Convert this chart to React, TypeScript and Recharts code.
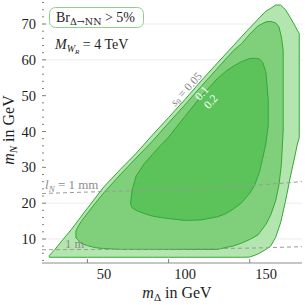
import React from "react";
import { ComposedChart, Area, Line, XAxis, YAxis, CartesianGrid } from "recharts";

const serif = "'Liberation Serif', 'DejaVu Serif', serif";

// m_Delta samples (GeV) with lower / upper m_N edge (GeV) of each s_theta region
const outerX = [26.5, 30, 35, 40, 50, 60, 70, 80, 90, 100, 110, 120, 130, 140, 145, 150, 155, 160, 163, 166, 169, 172, 175, 178, 179.5, 180.5];
const outerLo = [4.9, 4.9, 4.9, 4.9, 4.9, 4.9, 4.9, 4.9, 4.9, 4.9, 4.9, 4.9, 4.9, 4.9, 4.9, 4.95, 5.8, 7.1, 8.1, 10.5, 14.5, 20.5, 27.3, 33.5, 36.8, 38.2];
const outerHi = [5.4, 7.1, 9.9, 12.6, 18.6, 24.5, 29.3, 33.9, 39.0, 43.9, 48.9, 54.1, 59.1, 64.0, 66.5, 68.9, 71.3, 73.6, 74.4, 75.3, 75.3, 74.0, 71.8, 69.4, 68.1, 67.4];

const middleX = [42.9, 44, 46, 50, 55, 60, 70, 80, 90, 100, 110, 120, 130, 140, 145, 150, 155, 160, 163, 166, 168, 169.5, 170.6];
const middleLo = [10.3, 9.8, 8.8, 8.15, 7.55, 7.35, 7.1, 7.1, 7.1, 7.1, 7.1, 7.1, 7.1, 8.07, 8.85, 9.88, 11.1, 14.1, 16.8, 20.7, 25.1, 30.8, 40.4];
const middleHi = [12.2, 13.3, 14.8, 17.2, 20.1, 22.85, 27.85, 32.6, 37.3, 42.4, 47.4, 52.55, 57.6, 62.6, 64.55, 67.15, 69.45, 70.6, 70.7, 70.3, 69.2, 66.4, 62.7];

const innerX = [76.6, 77.5, 80, 85, 90, 95, 100, 110, 120, 130, 135, 140, 145, 150, 153, 156, 158, 160, 161.4];
const innerLo = [19.76, 18.73, 18.0, 17.1, 16.41, 16.02, 15.69, 15.18, 15.32, 16.19, 17.0, 18.4, 20.1, 22.8, 24.98, 28.75, 32.54, 36.81, 41.81];
const innerHi = [20.04, 23.67, 27.57, 31.06, 33.57, 36.09, 38.46, 44.18, 49.82, 54.73, 56.74, 58.27, 59.53, 60.37, 60.45, 60.23, 59.25, 56.5, 48.79];

// decay length contours
const lN1mmX = [22, 50, 80, 110, 130, 150, 165, 182.2];
const lN1mmY = [22.7, 23.1, 23.5, 23.85, 24.3, 24.9, 25.4, 26.0];
const lN1mX = [22, 100, 150, 182.2];
const lN1mY = [7.0, 7.15, 7.45, 7.85];

const xTicks = [50, 100, 150];
const yMajorTicks = [10, 20, 30, 40, 50, 60, 70];
const yMinorTicks = [4, 6, 8, 12, 14, 16, 18, 22, 24, 26, 28, 32, 34, 36, 38, 42, 44, 46, 48, 52, 54, 56, 58, 62, 64, 66, 68, 72, 74, 76];
const gridValues = [10, 20, 60, 70];
const yAllTicks = [...yMinorTicks, ...yMajorTicks].sort((a, b) => a - b);

const bandRows = (xs: number[], lo: number[], hi: number[]) =>
  xs.map((x, i) => ({ x, band: [lo[i], hi[i]] }));

// outline: upper edge forward, lower edge back, closed
const outline = (xs: number[], lo: number[], hi: number[]) => {
  const top = xs.map((x, i) => ({ x, y: hi[i] }));
  const bottom = xs.map((x, i) => ({ x, y: lo[i] })).reverse();
  return [...top, ...bottom, top[0]];
};

const lineRows = (xs: number[], ys: number[]) => xs.map((x, i) => ({ x, y: ys[i] }));

const regions = [
  { key: "outer", xs: outerX, lo: outerLo, hi: outerHi, fill: "#b3e5ae" },
  { key: "middle", xs: middleX, lo: middleLo, hi: middleHi, fill: "#80d07b" },
  { key: "inner", xs: innerX, lo: innerLo, hi: innerHi, fill: "#5bc35a" },
];

const ink = "#1e1e1e";
const tickGray = "#808080";

const BottomTick = (props: any) => {
  const { x, y, payload } = props;
  return (
    <g>
      <line x1={x} x2={x} y1={y} y2={y - 4} stroke={tickGray} />
      <text x={x + 16.5} y={y + 15.5} textAnchor="middle" fontFamily={serif} fontSize={14.5} fill={ink}>
        {payload.value}
      </text>
    </g>
  );
};

const TopTick = (props: any) => {
  const { x, y } = props;
  return <line x1={x} x2={x} y1={y} y2={y + 4} stroke={tickGray} />;
};

const LeftTick = (props: any) => {
  const { x, y, payload } = props;
  const major = yMajorTicks.includes(payload.value);
  return (
    <g>
      <line x1={x} x2={x + (major ? 4 : 2)} y1={y} y2={y} stroke={tickGray} />
      {major && (
        <text x={x - 6} y={y + 5} textAnchor="end" fontFamily={serif} fontSize={14.5} fill={ink}>
          {payload.value}
        </text>
      )}
    </g>
  );
};

const RightTick = (props: any) => {
  const { x, y, payload } = props;
  const major = yMajorTicks.includes(payload.value);
  return <line x1={x} x2={x - (major ? 4 : 2)} y1={y} y2={y} stroke={tickGray} />;
};

// text layer drawn above the chart
const Notes = () => (
  <svg width={305} height={305} style={{ position: "absolute", left: 0, top: 0, pointerEvents: "none" }} fontFamily={serif}>
    <text x={177} y={298} textAnchor="middle" fontSize={16} fill={ink}>
      <tspan fontStyle="italic">m</tspan>
      <tspan fontSize={11} dy={3}>Δ</tspan>
      <tspan dy={-3}>{" in GeV"}</tspan>
    </text>
    <text transform="translate(14,130) rotate(-90)" textAnchor="middle" fontSize={16} fill={ink}>
      <tspan fontStyle="italic">m</tspan>
      <tspan fontSize={11} fontStyle="italic" dy={3}>N</tspan>
      <tspan dy={-3}>{" in GeV"}</tspan>
    </text>
    <rect x={49.5} y={7.5} width={94} height={20} rx={6} fill="#fff" stroke="#8ed18a" />
    <text x={56} y={22} fontSize={14} fill={ink}>
      Br
      <tspan fontSize={9.5} fontFamily="'DejaVu Serif', serif" dy={3}>Δ→NN</tspan>
      <tspan dy={-3}>{" > 5%"}</tspan>
    </text>
    <text x={55} y={48.5} fontSize={14} fill={ink}>
      <tspan fontStyle="italic">M</tspan>
      <tspan fontSize={10} fontStyle="italic" dy={3}>W</tspan>
      <tspan fontSize={7} fontStyle="italic" dy={2}>R</tspan>
      <tspan dy={-5}>{" = 4 TeV"}</tspan>
    </text>
    <text transform="translate(186,89) rotate(-48)" textAnchor="middle" y={4} fontSize={11.5} fill="#8a8a8a">
      <tspan fontStyle="italic">s</tspan>
      <tspan fontSize={8} dy={2}>θ</tspan>
      <tspan dy={-2}>{" = 0.05"}</tspan>
    </text>
    <text transform="translate(201.5,93) rotate(-48)" textAnchor="middle" y={4} fontSize={11.5} fill="#fff">0.1</text>
    <text transform="translate(210.5,101.5) rotate(-48)" textAnchor="middle" y={4} fontSize={11.5} fill="#fff">0.2</text>
    <text x={45} y={189} fontSize={13} fill="#8c8c8c">
      <tspan fontStyle="italic">l</tspan>
      <tspan fontSize={9} fontStyle="italic" dy={2.5}>N</tspan>
      <tspan dy={-2.5}>{" = 1 mm"}</tspan>
    </text>
    <text x={65} y={248} fontSize={12.5} fill="#8c8c8c">1 m</text>
  </svg>
);

export default function App() {
  return (
    <div style={{ position: "absolute", left: 0, top: 0, width: 305, height: 305, background: "#fff" }}>
      <ComposedChart width={305} height={305} margin={{ top: 0, right: 3, bottom: 0, left: 0 }}>
        <CartesianGrid vertical={false} horizontalValues={gridValues} stroke="#ececec" />
        <XAxis
          type="number"
          dataKey="x"
          domain={[22, 182.2]}
          allowDataOverflow
          ticks={xTicks}
          interval={0}
          height={42}
          tickSize={0}
          tickMargin={0}
          tickLine={false}
          tick={<BottomTick />}
          axisLine={{ stroke: "#8c8c8c" }}
        />
        <XAxis
          xAxisId="top"
          orientation="top"
          type="number"
          dataKey="x"
          domain={[22, 182.2]}
          allowDataOverflow
          ticks={xTicks}
          interval={0}
          height={0}
          tickSize={0}
          tickMargin={0}
          tickLine={false}
          tick={<TopTick />}
          axisLine={false}
        />
        <YAxis
          type="number"
          domain={[3.3, 76.7]}
          allowDataOverflow
          ticks={yAllTicks}
          interval={0}
          width={42}
          tickSize={0}
          tickMargin={0}
          tickLine={false}
          tick={<LeftTick />}
          axisLine={false}
        />
        <YAxis
          yAxisId="right"
          orientation="right"
          type="number"
          domain={[3.3, 76.7]}
          allowDataOverflow
          ticks={yAllTicks}
          interval={0}
          width={0}
          tickSize={0}
          tickMargin={0}
          tickLine={false}
          tick={<RightTick />}
          axisLine={false}
        />
        {regions.map((r) => (
          <Area
            key={r.key + "-fill"}
            data={bandRows(r.xs, r.lo, r.hi)}
            dataKey="band"
            type="linear"
            fill={r.fill}
            fillOpacity={1}
            stroke="none"
            dot={false}
            activeDot={false}
            isAnimationActive={false}
          />
        ))}
        {regions.map((r) => (
          <Line
            key={r.key + "-edge"}
            data={outline(r.xs, r.lo, r.hi)}
            dataKey="y"
            type="linear"
            stroke="#34a834"
            strokeWidth={1}
            dot={false}
            activeDot={false}
            isAnimationActive={false}
          />
        ))}
        <Line data={lineRows(lN1mmX, lN1mmY)} dataKey="y" type="linear" stroke="#9a9a9a" strokeDasharray="4 3" strokeWidth={1} dot={false} activeDot={false} isAnimationActive={false} />
        <Line data={lineRows(lN1mX, lN1mY)} dataKey="y" type="linear" stroke="#9a9a9a" strokeDasharray="4 3" strokeWidth={1} dot={false} activeDot={false} isAnimationActive={false} />
      </ComposedChart>
      <Notes />
    </div>
  );
}
